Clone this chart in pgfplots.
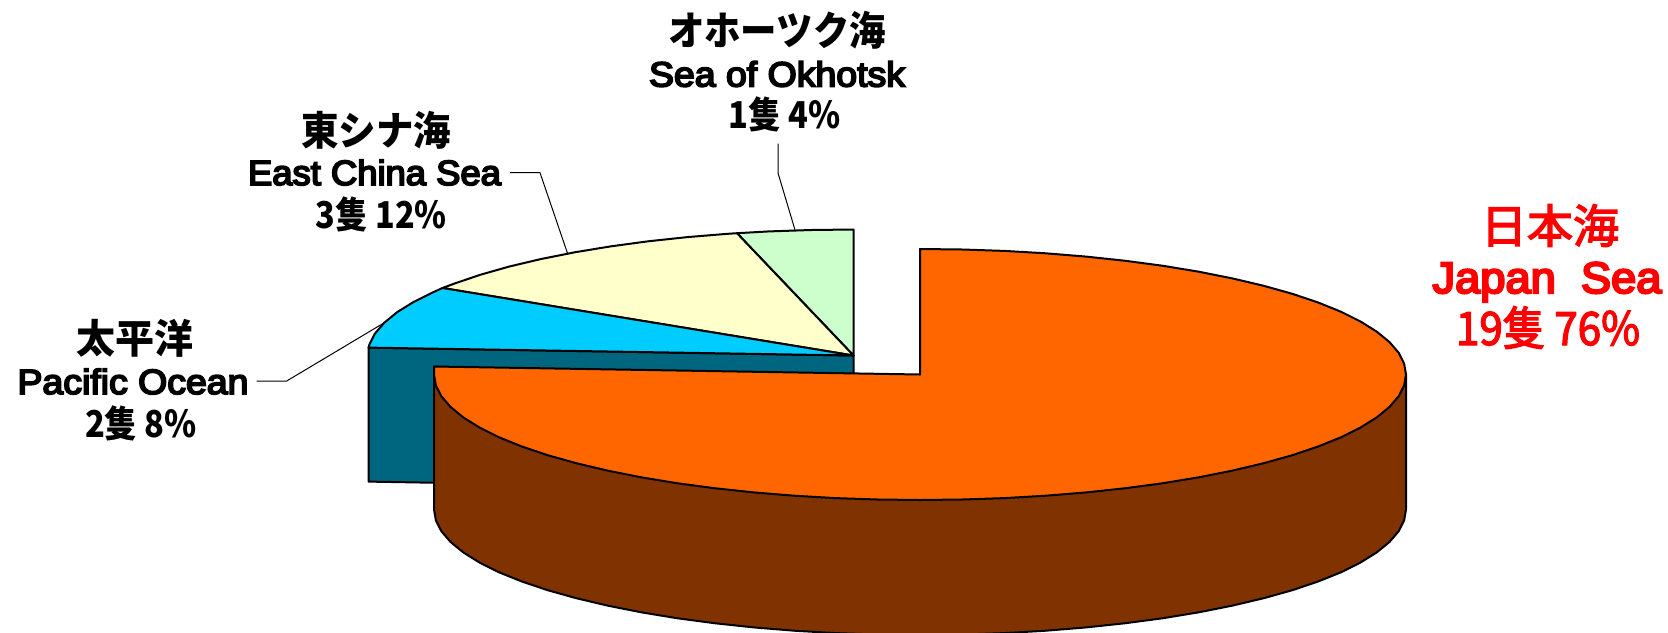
\documentclass[border=0pt]{standalone}
\usepackage{graphicx}
\usepackage{fontspec}
\usepackage{pgfplots}
\pgfplotsset{compat=1.18}
\setmainfont{Liberation Sans}[FakeBold=5]
\newfontfamily\cjk{Noto Sans CJK JP}
\newfontfamily\cjkm{Noto Sans CJK JP}[FakeBold=3]
\definecolor{cGreen}{HTML}{CCFFCC}
\definecolor{cYellow}{HTML}{FFFFCC}
\definecolor{cBlue}{HTML}{00CCFF}
\definecolor{cTeal}{HTML}{006680}
\definecolor{cOrange}{HTML}{FF6600}
\definecolor{cBrown}{HTML}{803300}
% one text line: centre x, baseline y, width (in reference pixels), text
\newcommand{\lab}[4]{\node[anchor=base,inner sep=0pt,outer sep=0pt] at (axis cs:#1,#2) {\resizebox{#3pt}{\height}{#4}};}
\newcommand{\bk}[1]{{\cjk\bfseries\fontsize{20}{22}\selectfont #1}}
\newcommand{\bn}[1]{{\cjk\bfseries\fontsize{18.5}{20}\selectfont #1}}
\newcommand{\lt}[1]{{\fontsize{17.5}{20}\selectfont #1}}
\newcommand{\rk}[1]{{\cjkm\fontsize{23}{25}\selectfont #1}}
\newcommand{\rl}[1]{{\fontsize{22}{25}\selectfont #1}}
\begin{document}
\begin{tikzpicture}
\useasboundingbox (0,0) rectangle (834pt,316pt);
\begin{axis}[
  scale only axis, width=834pt, height=316pt,
  xmin=0, xmax=1668, ymin=0, ymax=632, y dir=reverse,
  hide axis, clip=true,
  every axis plot/.append style={draw=black,line width=1pt,line join=round}]
% rear block: wall
\addplot[fill=cTeal] coordinates {(368.5,347.6)(853.5,355.5)(853.5,490)(368.5,481.6)} -- cycle;
% Sea of Okhotsk 4%
\addplot[fill=cGreen] coordinates {(853.5,355.5)(853.5,229.5)(811.1,230)(769.1,231.4)(737,233.2)} -- cycle;
% East China Sea 12%
\addplot[fill=cYellow] coordinates {(853.5,355.5)(737,233.2)(727.7,233.8)(687.3,237.1)(648.1,241.3)(610.5,246.4)(574.7,252.3)(541.1,259)(509.8,266.4)(481.2,274.5)(455.4,283.2)(442.5,288)} -- cycle;
% Pacific Ocean 8%
\addplot[fill=cBlue] coordinates {(853.5,355.5)(442.5,288)(432.6,292.5)(413,302.3)(396.8,312.4)(384.1,322.9)(374.9,333.6)(369.4,344.5)(368.5,347.6)} -- cycle;
% Japan Sea 76%: side
\addplot[fill=cBrown] coordinates {(1406,374.5)(1406,509.5)(1404.1,520.4)(1398.6,531.3)(1389.4,542)(1376.7,552.4)(1360.5,562.5)(1340.9,572.3)(1318.1,581.5)(1292.3,590.2)(1263.7,598.2)(1232.4,605.6)(1198.8,612.3)(1163,618.2)(1125.4,623.2)(1086.2,627.4)(1045.8,630.7)(1004.4,633.1)(962.4,634.5)(920,635)(877.6,634.5)(835.6,633.1)(794.2,630.7)(753.8,627.4)(714.6,623.2)(677,618.2)(641.2,612.3)(607.6,605.6)(576.3,598.2)(547.7,590.2)(521.9,581.5)(499.1,572.3)(479.5,562.5)(463.3,552.4)(450.6,542)(441.4,531.3)(435.9,520.4)(434,509.5)(434,366.5)(920,400)} -- cycle;
% Japan Sea 76%: top
\addplot[fill=cOrange] coordinates {(920,374.5)(920,249)(962.4,249.5)(1004.4,250.9)(1045.8,253.3)(1086.2,256.6)(1125.4,260.8)(1163,265.8)(1198.8,271.7)(1232.4,278.4)(1263.7,285.8)(1292.3,293.8)(1318.1,302.5)(1340.9,311.7)(1360.5,321.5)(1376.7,331.6)(1389.4,342)(1398.6,352.7)(1404.1,363.6)(1406,374.5)(1404.1,385.4)(1398.6,396.3)(1389.4,407)(1376.7,417.4)(1360.5,427.5)(1340.9,437.3)(1318.1,446.5)(1292.3,455.2)(1263.7,463.2)(1232.4,470.6)(1198.8,477.3)(1163,483.2)(1125.4,488.2)(1086.2,492.4)(1045.8,495.7)(1004.4,498.1)(962.4,499.5)(920,500)(877.6,499.5)(835.6,498.1)(794.2,495.7)(753.8,492.4)(714.6,488.2)(677,483.2)(641.2,477.3)(607.6,470.6)(576.3,463.2)(547.7,455.2)(521.9,446.5)(499.1,437.3)(479.5,427.5)(463.3,417.4)(450.6,407)(441.4,396.3)(435.9,385.4)(434,374.5)(434,366.5)} -- cycle;
% leader lines
\addplot[line width=0.5pt] coordinates {(778,143.5)(778,173)(795,230)};
\addplot[line width=0.5pt] coordinates {(510,172.7)(540,172.7)(567.5,253.3)};
\addplot[line width=0.5pt] coordinates {(256.7,381)(286.7,381)(383.3,323.3)};
% labels
\lab{777}{45}{109}{\bk{オホーツク海}}
\lab{777}{86.5}{128}{\lt{Sea of Okhotsk}}
\lab{784.6}{128.5}{56}{\bn{1隻 4\%}}
\lab{376}{145}{75}{\bk{東シナ海}}
\lab{374.5}{185}{126.5}{\lt{East China Sea}}
\lab{381.4}{228}{65.5}{\bn{3隻 12\%}}
\lab{135}{353}{58.5}{\bk{太平洋}}
\lab{133}{394}{115.5}{\lt{Pacific Ocean}}
\lab{141}{437}{56}{\bn{2隻 8\%}}
\lab{1550}{243}{69}{\color{red}\rk{日本海}}
\lab{1547}{293}{114.5}{\color{red}\rl{Japan\ \ Sea}}
\lab{1548}{345}{92}{\color{red}\rk{19隻 76\%}}
\end{axis}
\end{tikzpicture}
\end{document}
